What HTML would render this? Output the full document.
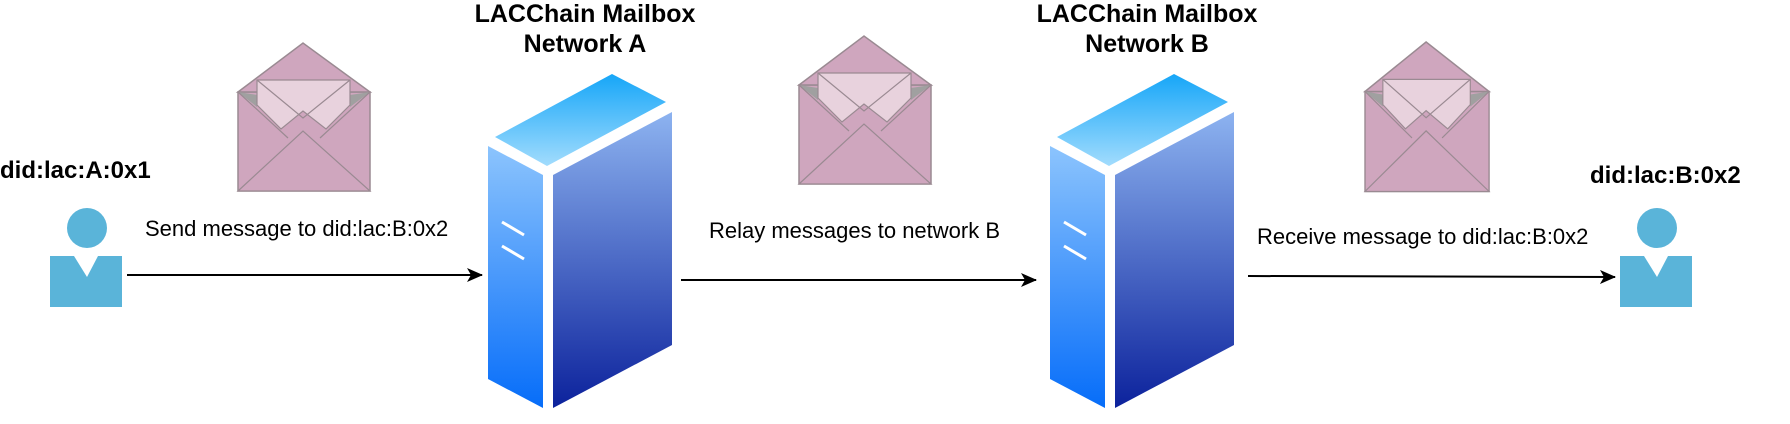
<!DOCTYPE html>
<html><head><meta charset="utf-8"><style>
html,body{margin:0;padding:0;background:#fff;}
svg{display:block;font-family:"Liberation Sans",Arial,sans-serif;}
</style></head><body>
<svg width="1790" height="424" viewBox="0 0 1790 424" xmlns="http://www.w3.org/2000/svg">
<defs>
<linearGradient id="gt" x1="0" y1="0" x2="0" y2="1"><stop offset="0" stop-color="#16a6f8"/><stop offset="1" stop-color="#a2dcfd"/></linearGradient>
<linearGradient id="gl" x1="0" y1="0" x2="0" y2="1"><stop offset="0" stop-color="#8cc4fd"/><stop offset="1" stop-color="#066df9"/></linearGradient>
<linearGradient id="gr" x1="0" y1="0" x2="0" y2="1"><stop offset="0" stop-color="#8db3f0"/><stop offset="1" stop-color="#0c229c"/></linearGradient>
<g id="server">
<polygon points="495,137 612,74 666,102 547,166" fill="url(#gt)"/>
<polygon points="488,146 543,175 543,408 488,379" fill="url(#gl)"/>
<polygon points="553,175 672,112 672,345 553,408" fill="url(#gr)"/>
<line x1="502" y1="222" x2="524" y2="235" stroke="#fff" stroke-width="3"/>
<line x1="502" y1="246" x2="524" y2="259" stroke="#fff" stroke-width="3"/>
</g>
<g id="env">
<rect x="0" y="49" width="132" height="99" fill="#cfa6be" stroke="#9a8a92" stroke-width="1.5"/>
<polygon points="0,49 65,0 132,49" fill="#cfa6be" stroke="#9a8a92" stroke-width="1.5"/>
<polygon points="0,49 19,52 19,64" fill="#a0a0a0"/>
<polygon points="132,49 112,52 112,64" fill="#a0a0a0"/>
<polygon points="19,37 112,37 112,62 88,86 65,68 43,86 19,62" fill="#e8d2dd" stroke="#9a8a92" stroke-width="1.2"/>
<polyline points="19,37 65,75 112,37" fill="none" stroke="#9a8a92" stroke-width="1.2"/>
<line x1="0" y1="49" x2="50" y2="95" stroke="#9a8a92" stroke-width="1.2"/>
<line x1="132" y1="49" x2="82" y2="95" stroke="#9a8a92" stroke-width="1.2"/>
<polygon points="0,148 65,88 132,148" fill="#cfa6be" stroke="#9a8a92" stroke-width="1.2"/>
</g>
<g id="user">
<circle cx="0" cy="0" r="20" fill="#5ab4d9"/>
<polygon points="-37,28 -13,28 0,49 11,28 35,28 35,79 -37,79" fill="#5ab4d9"/>
</g>
<marker id="ah" markerWidth="16" markerHeight="14" refX="15" refY="7" orient="auto" markerUnits="userSpaceOnUse">
<path d="M0,0 L16,7 L0,14 L4,7 Z" fill="#000"/>
</marker>
</defs>

<use href="#server"/>
<use href="#server" x="562"/>

<use href="#env" x="238" y="43"/>
<use href="#env" x="799" y="36"/>
<g transform="translate(1365,42) scale(0.94,1.01)"><use href="#env"/></g>

<use href="#user" x="87" y="228"/>
<use href="#user" x="1657" y="228"/>

<line x1="127" y1="275" x2="482" y2="275" stroke="#000" stroke-width="2" marker-end="url(#ah)"/>
<line x1="681" y1="280" x2="1036" y2="280" stroke="#000" stroke-width="2" marker-end="url(#ah)"/>
<line x1="1248" y1="276" x2="1615" y2="277" stroke="#000" stroke-width="2" marker-end="url(#ah)"/>

<text x="145" y="236" font-size="22">Send message to did:lac:B:0x2</text>
<text x="709" y="238" font-size="22">Relay messages to network B</text>
<text x="1257" y="244" font-size="22">Receive message to did:lac:B:0x2</text>

<text x="0" y="178" font-size="24" font-weight="bold">did:lac:A:0x1</text>
<text x="1590" y="183" font-size="24" font-weight="bold">did:lac:B:0x2</text>

<text x="585" y="22" font-size="25" font-weight="bold" text-anchor="middle">LACChain Mailbox</text>
<text x="585" y="52" font-size="25" font-weight="bold" text-anchor="middle">Network A</text>
<text x="1147" y="22" font-size="25" font-weight="bold" text-anchor="middle">LACChain Mailbox</text>
<text x="1147" y="52" font-size="25" font-weight="bold" text-anchor="middle">Network B</text>
</svg>
</body></html>
